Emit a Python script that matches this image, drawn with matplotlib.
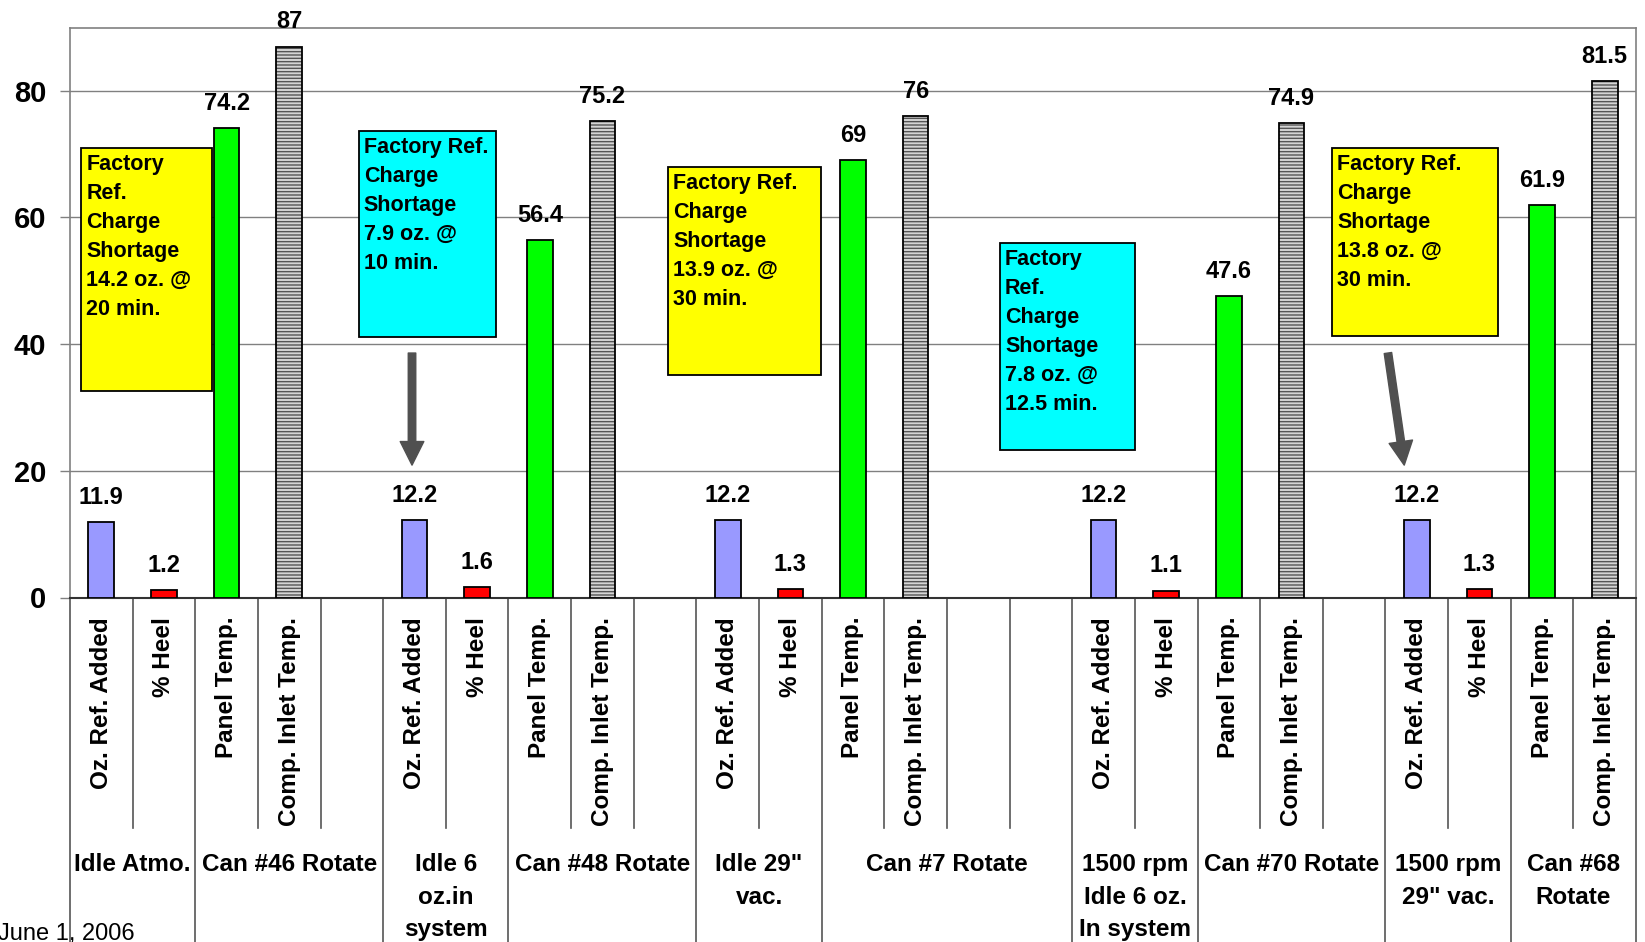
import matplotlib
matplotlib.use("Agg")
import matplotlib.pyplot as plt
import matplotlib.patches as mpatches
import matplotlib.transforms as mtransforms

plt.rcParams["font.family"] = ["Liberation Sans", "DejaVu Sans"]
plt.rcParams["hatch.linewidth"] = 1.0

# Run conditions (lower label row), one per test run
conditions = ["Idle Atmo.", "Idle 6\noz.in\nsystem", "Idle 29\"\nvac.",
              "1500 rpm\nIdle 6 oz.\nIn system", "1500 rpm\n29\" vac."]
cans = ["Can #46 Rotate", "Can #48 Rotate", "Can #7 Rotate",
        "Can #70 Rotate", "Can #68\nRotate"]
measures = ["Oz. Ref. Added", "% Heel", "Panel Temp.", "Comp. Inlet Temp."]

oz_added   = [11.9, 12.2, 12.2, 12.2, 12.2]
pct_heel   = [1.2, 1.6, 1.3, 1.1, 1.3]
panel_temp = [74.2, 56.4, 69, 47.6, 61.9]
comp_inlet = [87, 75.2, 76, 74.9, 81.5]

# empty category slots after each run
gaps = [1, 1, 2, 1, 0]

notes = ["Factory\nRef.\nCharge\nShortage\n14.2 oz. @\n20 min.",
         "Factory Ref.\nCharge\nShortage\n7.9 oz. @\n10 min.",
         "Factory Ref.\nCharge\nShortage\n13.9 oz. @\n30 min.",
         "Factory\nRef.\nCharge\nShortage\n7.8 oz. @\n12.5 min.",
         "Factory Ref.\nCharge\nShortage\n13.8 oz. @\n30 min."]
note_colors = ["#FFFF00", "#00FFFF", "#FFFF00", "#00FFFF", "#FFFF00"]
# box extents in data units: (x0, x1, y0, y1)
note_boxes = [(-0.32, 1.77, 32.6, 71.0),
              (4.11, 6.30, 41.1, 73.7),
              (9.05, 11.49, 35.1, 68.0),
              (14.35, 16.50, 23.3, 56.0),
              (19.65, 22.30, 41.3, 71.0)]
# arrows pointing down at the refill bars
arrows = [((4.96, 38.6), (4.96, 20.9)),
          ((20.54, 38.6), (20.80, 20.9))]

bar_colors = ["#9999FF", "#FF0000", "#00FF00", "#D4D4D4"]
BAR_W = 0.41

fig = plt.figure(figsize=(16.45, 9.42), dpi=100)
ax = fig.add_axes([70 / 1645, 344.5 / 942, 1566 / 1645, 570 / 942])

# lay out category slots
slot = 0
tick_pos, tick_lab = [], []
short_lines, long_lines = [], [-0.5]
group_labels = []
series = [oz_added, pct_heel, panel_temp, comp_inlet]
for i in range(len(conditions)):
    start = slot
    for k, vals in enumerate(series):
        x = slot + k
        v = vals[i]
        if k == 3:
            ax.bar(x, v, width=BAR_W, color=bar_colors[k], hatch="-----",
                   edgecolor="#555555", linewidth=0, zorder=3)
            ax.bar(x, v, width=BAR_W, fill=False, edgecolor="black",
                   linewidth=1.3, zorder=3)
        else:
            ax.bar(x, v, width=BAR_W, color=bar_colors[k], edgecolor="black",
                   linewidth=1.3, zorder=3)
        ax.annotate(f"{v:g}", (x, v), xytext=(0, 13), textcoords="offset points",
                    ha="center", va="baseline", fontsize=17, fontweight="bold",
                    zorder=5)
        tick_pos.append(x)
        tick_lab.append(measures[k])
    n = 4 + gaps[i]
    group_labels.append((start + 0.5, conditions[i]))
    group_labels.append((start + 2 + (n - 2 - 1) / 2, cans[i]))
    for b in range(1, n):
        edge = start + b - 0.5
        (long_lines if b == 2 else short_lines).append(edge)
    long_lines.append(start + n - 0.5)
    slot += n

ax.set_xlim(-0.5, slot - 0.5)
ax.set_ylim(0, 90)
ax.set_yticks([0, 20, 40, 60, 80])
ax.yaxis.grid(True, color="#808080", linewidth=1.0, zorder=0)
ax.set_axisbelow(True)
ax.tick_params(axis="y", length=7, width=1, color="#808080", pad=10,
               labelsize=21)
for lab in ax.get_yticklabels():
    lab.set_fontweight("bold")

ax.set_xticks(tick_pos)
ax.set_xticklabels(tick_lab, rotation=90, fontsize=17.5, fontweight="bold",
                   va="top", ha="center")
ax.tick_params(axis="x", length=0, pad=14)

for side in ["top", "right", "left"]:
    ax.spines[side].set_color("#808080")
    ax.spines[side].set_linewidth(1.2)
ax.spines["bottom"].set_color("#333333")
ax.spines["bottom"].set_linewidth(1.5)

# category divider lines below the axis
tr = mtransforms.blended_transform_factory(ax.transData, fig.transFigure)
y_axis = 344.5 / 942
for e in short_lines:
    ax.plot([e, e], [y_axis, 114 / 942], transform=tr, color="#555555",
            linewidth=1.2, clip_on=False)
for e in long_lines:
    ax.plot([e, e], [y_axis, 0], transform=tr, color="#555555",
            linewidth=1.2, clip_on=False)

for x, txt in group_labels:
    ax.text(x, 89 / 942, txt, transform=tr, ha="center", va="top",
            multialignment="center", fontsize=17.5, fontweight="bold",
            linespacing=1.53)

# shortage notes
for (x0, x1, y0, y1), txt, col in zip(note_boxes, notes, note_colors):
    ax.add_patch(mpatches.Rectangle((x0, y0), x1 - x0, y1 - y0, facecolor=col,
                                    edgecolor="black", linewidth=1.3, zorder=4))
    ax.annotate(txt, (x0, y1), xytext=(3.5, -4.5), textcoords="offset points",
                ha="left", va="top", fontsize=15.5, fontweight="bold",
                linespacing=1.5, zorder=5)

for start, end in arrows:
    ax.add_patch(mpatches.FancyArrowPatch(
        start, end, arrowstyle="simple,head_width=0.85,head_length=0.85,tail_width=0.27",
        mutation_scale=20, color="#505050", shrinkA=0, shrinkB=0, zorder=5))

fig.text(-2 / 1645, 2 / 942, "June 1, 2006", fontsize=17, ha="left",
         va="baseline")

fig.savefig("out.png", dpi=100)
